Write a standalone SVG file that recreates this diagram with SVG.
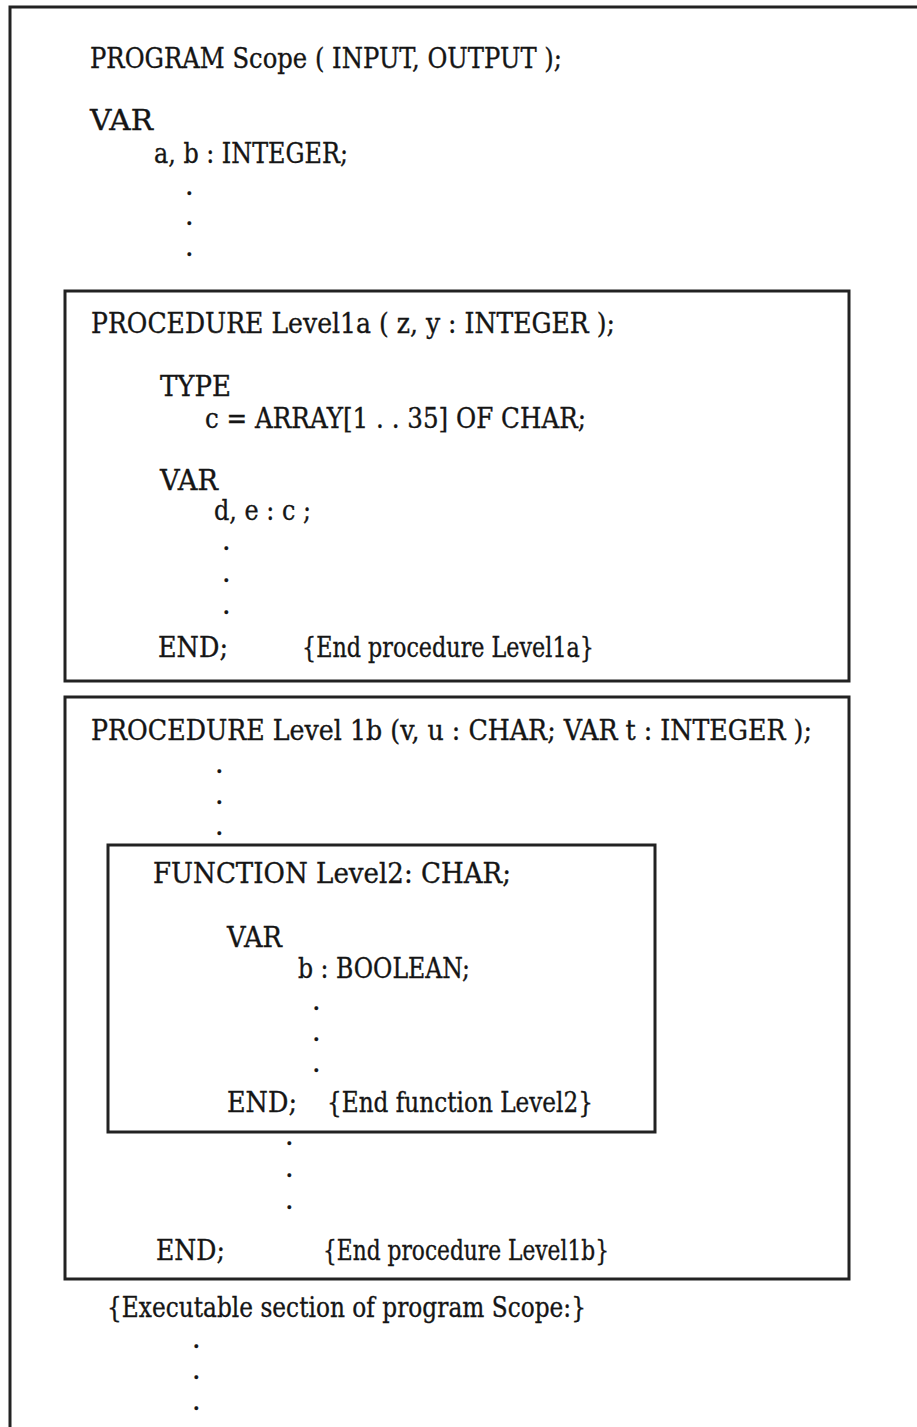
<svg xmlns="http://www.w3.org/2000/svg" width="917" height="1427" viewBox="0 0 917 1427">
<style>
.box{fill:none;stroke:#222;stroke-width:3}
text{font-family:"DejaVu Serif","Liberation Serif",serif;font-size:27px;fill:#151515;stroke:#151515;stroke-width:0.35}
</style>
<rect x="0" y="0" width="917" height="1427" fill="#ffffff"/>
<g id="program-scope">
<rect class="box" x="10" y="7" width="930" height="1440"/>
<text x="90" y="68" textLength="472" lengthAdjust="spacingAndGlyphs">PROGRAM Scope ( INPUT, OUTPUT );</text>
<text x="90" y="130" textLength="63" lengthAdjust="spacingAndGlyphs">VAR</text>
<text x="154" y="163" textLength="194" lengthAdjust="spacingAndGlyphs">a, b : INTEGER;</text>
<text x="185" y="195">.</text>
<text x="185" y="225">.</text>
<text x="185" y="256">.</text>
</g>
<g id="level1a">
<rect class="box" x="65" y="291" width="784" height="390"/>
<text x="91" y="333" textLength="524" lengthAdjust="spacingAndGlyphs">PROCEDURE Level1a ( z, y : INTEGER );</text>
<text x="160" y="396" textLength="71" lengthAdjust="spacingAndGlyphs">TYPE</text>
<text x="205" y="428" textLength="381" lengthAdjust="spacingAndGlyphs">c = ARRAY[1 . . 35] OF CHAR;</text>
<text x="160" y="490" textLength="58" lengthAdjust="spacingAndGlyphs">VAR</text>
<text x="214" y="520" textLength="97" lengthAdjust="spacingAndGlyphs">d, e :  c ;</text>
<text x="222" y="550">.</text>
<text x="222" y="582">.</text>
<text x="222" y="614">.</text>
<text x="158" y="657" textLength="70" lengthAdjust="spacingAndGlyphs">END;</text>
<text x="302" y="657" textLength="292" lengthAdjust="spacingAndGlyphs">{End procedure Level1a}</text>
</g>
<g id="level1b">
<rect class="box" x="65" y="697" width="784" height="582"/>
<text x="91" y="740" textLength="721" lengthAdjust="spacingAndGlyphs">PROCEDURE Level 1b (v, u : CHAR; VAR t : INTEGER );</text>
<text x="215" y="773">.</text>
<text x="215" y="804">.</text>
<text x="215" y="835">.</text>
<text x="285" y="1145">.</text>
<text x="285" y="1177">.</text>
<text x="285" y="1209">.</text>
<text x="156" y="1260" textLength="69" lengthAdjust="spacingAndGlyphs">END;</text>
<text x="323" y="1260" textLength="286" lengthAdjust="spacingAndGlyphs">{End procedure Level1b}</text>
</g>
<g id="level2">
<rect class="box" x="108" y="845" width="547" height="287"/>
<text x="153" y="883" textLength="358" lengthAdjust="spacingAndGlyphs">FUNCTION Level2: CHAR;</text>
<text x="227" y="947" textLength="55" lengthAdjust="spacingAndGlyphs">VAR</text>
<text x="298" y="978" textLength="172" lengthAdjust="spacingAndGlyphs">b : BOOLEAN;</text>
<text x="312" y="1010">.</text>
<text x="312" y="1041">.</text>
<text x="312" y="1072">.</text>
<text x="227" y="1112" textLength="70" lengthAdjust="spacingAndGlyphs">END;</text>
<text x="327" y="1112" textLength="266" lengthAdjust="spacingAndGlyphs">{End function Level2}</text>
</g>
<g id="executable">
<text x="107" y="1317" textLength="479" lengthAdjust="spacingAndGlyphs">{Executable section of program Scope:}</text>
<text x="192" y="1348">.</text>
<text x="192" y="1379">.</text>
<text x="192" y="1410">.</text>
</g>
<g id="connectors"></g>
</svg>
